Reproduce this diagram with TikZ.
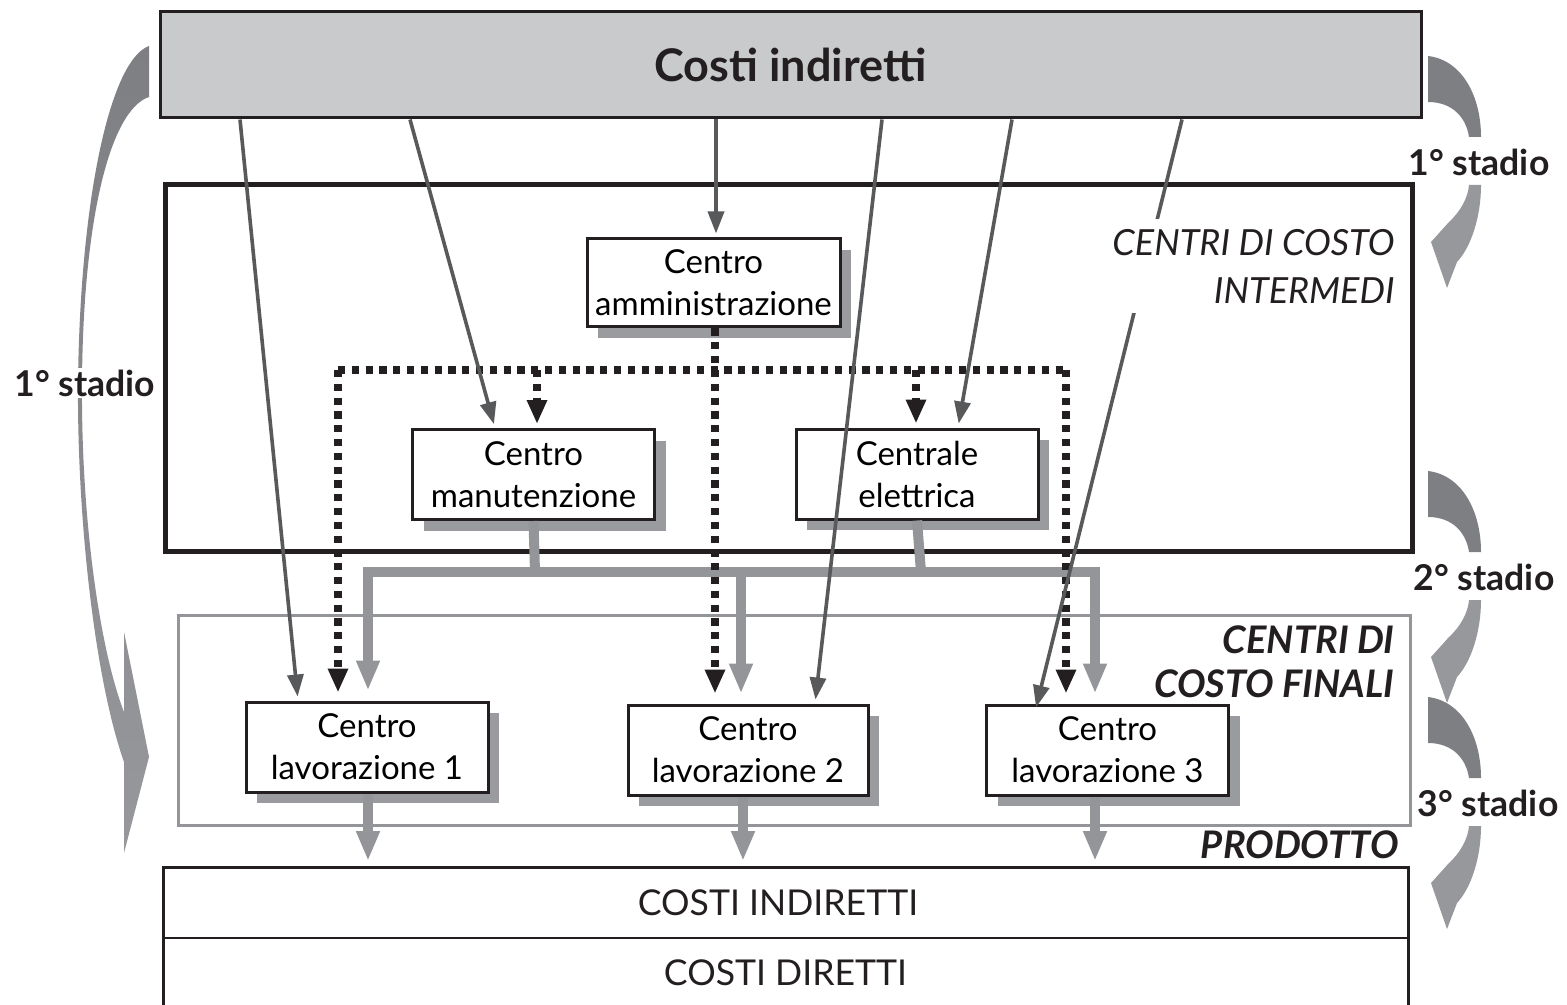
\documentclass[tikz,border=0pt]{standalone}
\usepackage{fontspec}
\setmainfont{Lato}
\usetikzlibrary{arrows.meta,shadows}
\definecolor{ink}{HTML}{231F20}
\definecolor{topfill}{HTML}{C9CACC}
\definecolor{shade}{HTML}{9A9B9E}
\definecolor{conn}{HTML}{939598}
\definecolor{thinline}{HTML}{58595B}
\definecolor{curvetop}{HTML}{7E7F82}
\definecolor{curvebot}{HTML}{97989B}
\begin{document}
\begin{tikzpicture}[x=0.5pt,y=-0.5pt,
  cbox/.style={draw=ink, line width=1.5pt, fill=white, minimum width=121pt,
    minimum height=45pt, inner sep=0pt, align=center,
    font=\fontsize{16.5}{21}\selectfont,
    drop shadow={shadow xshift=5.5pt, shadow yshift=-5.5pt, fill=shade, opacity=1}},
  thinarrow/.style={draw=thinline, line width=1.8pt, shorten >=2pt,
    -{Triangle[length=11pt,width=8pt]}},
  dotarrow/.style={draw=ink, line width=3.6pt, dash pattern=on 3.6pt off 3.3pt,
    -{Triangle[length=12pt,width=9.5pt]}},
  dotline/.style={draw=ink, line width=3.6pt, dash pattern=on 3.6pt off 3.3pt},
  gconn/.style={draw=conn, line width=5pt},
  gtip/.style={-{Triangle[length=15pt,width=11pt]}},
  stagelabel/.style={font=\bfseries\fontsize{17.8}{20}\selectfont, text=ink, inner sep=1pt},
  tag/.style={text=ink, align=right, inner sep=2pt},
  stadioarrow/.pic={
    \fill[curvetop] (1428,-106) .. controls (1462,-102) and (1481,-66) .. (1481,-25)
      -- (1469,-25) .. controls (1466,-45) and (1452,-60) .. (1428,-60) -- cycle;
    \fill[curvebot] (1481,23) .. controls (1481,55) and (1471,85) .. (1457,100)
      -- (1447,126) -- (1431,80) -- (1449,60)
      .. controls (1460,50) and (1468,36) .. (1469,23) -- cycle;
  }]
\useasboundingbox (0,0) rectangle (1567,1005);

% stage arrows on the right
\pic at (0,162) {stadioarrow};
\pic at (0,577) {stadioarrow};
\pic at (0,803) {stadioarrow};

% long stage arrow on the left
\shade[top color=curvetop, bottom color=curvebot]
  (149,46) .. controls (110,60) and (80,200) .. (78,383)
  .. controls (77,520) and (95,680) .. (124,762)
  -- (124,853) -- (149,757) -- (124,632) -- (124,712)
  .. controls (100,650) and (81,520) .. (82,383)
  .. controls (83,220) and (110,110) .. (149,97) -- cycle;

% frames
\node[draw=ink, line width=1.5pt, fill=topfill, minimum width=630.5pt, minimum height=53pt,
  font=\bfseries\fontsize{22.5}{26}\selectfont, text=ink] (ci) at (790.5,65) {Costi indiretti};
\node[draw=ink, line width=2.5pt, minimum width=623.5pt, minimum height=183pt] (inter) at (788.5,368) {};
\node[draw=conn, line width=1.5pt, minimum width=616pt, minimum height=105pt] (fin) at (794,720) {};

% product block
\node[minimum width=622.5pt, minimum height=35pt, inner sep=0pt,
  font=\fontsize{17.8}{20}\selectfont, text=ink] (cind) at (778,903) {COSTI INDIRETTI};
\node[minimum width=622.5pt, minimum height=34pt, inner sep=0pt,
  font=\fontsize{17.8}{20}\selectfont, text=ink] (cdir) at (785.5,973) {COSTI DIRETTI};
\draw[ink, line width=1.5pt] (163,0 |- cdir.south) -- (163,0 |- cind.north) -- (1408,0 |- cind.north) -- (1408,0 |- cdir.south);
\draw[ink, line width=1pt] (163,0 |- cind.south) -- (1408,0 |- cind.south);

% cost centres
\node[cbox, minimum width=126.5pt, minimum height=44pt] (admin) at (713.5,283) {Centro\\amministrazione};
\node[cbox] (manut) at (533.5,474.5) {Centro\\manutenzione};
\node[cbox] (elet) at (917,474) {Centrale\\elettrica};
\node[cbox] (lav1) at (367,747) {Centro\\lavorazione 1};
\node[cbox, minimum width=120pt] (lav2) at (748,750) {Centro\\lavorazione 2};
\node[cbox] (lav3) at (1107.5,750) {Centro\\lavorazione 3};

% second-stage transfers
\draw[gconn] (manut.south) -- (535,572);
\draw[gconn] (elet.south) -- (921,572);
\draw[gconn, {Triangle[length=15pt,width=11pt]}-{Triangle[length=15pt,width=11pt]}, shorten <=5pt, shorten >=5pt]
  (368,0 |- lav1.north) -- (368,572) -- (1095,572) -- (1095,0 |- lav3.north);
\draw[gconn, gtip, shorten >=5pt] (741,572) -- (741,0 |- lav2.north);

% third-stage transfers
\draw[gconn, gtip, shorten >=3pt] (368,0 |- lav1.south) -- (368,867);
\draw[gconn, gtip, shorten >=3pt] (743,0 |- lav2.south) -- (743,867);
\draw[gconn, gtip, shorten >=3pt] (1095,0 |- lav3.south) -- (1095,867);

% administration cost spread
\coordinate (dl) at (338,370);
\coordinate (dr) at (1066,370);
\draw[dotline] (dl) -- (dr);
\draw[dotarrow, shorten >=4pt] (dl) -- (338,0 |- lav1.north);
\draw[dotarrow, shorten >=5pt] (dr) -- (1066,0 |- lav3.north);
\draw[dotarrow, shorten >=5pt] (715,0 |- admin.south) -- (715,0 |- lav2.north);
\draw[dotarrow, shorten >=2pt] (537,370) -- (537,0 |- manut.north);
\draw[dotarrow, shorten >=2pt] (916,370) -- (916,0 |- elet.north);

% first-stage allocations
\draw[thinarrow] (240,0 |- ci.south) -- (298,0 |- lav1.north);
\draw[thinarrow] (410,0 |- ci.south) -- (495,0 |- manut.north);
\draw[thinarrow] (716,0 |- ci.south) -- (716,0 |- admin.north);
\draw[thinarrow] (882,0 |- ci.south) -- (815,0 |- lav2.north);
\draw[thinarrow] (1012,0 |- ci.south) -- (958,0 |- elet.north);
\draw[thinarrow, shorten >=-2pt] (1182,0 |- ci.south) -- (1037,0 |- lav3.north);

% labels
\node[tag, anchor=east, fill=white, inner sep=5pt,
  font=\itshape\fontsize{18}{24}\selectfont] (interlbl) at (1405,266) {CENTRI DI COSTO\\INTERMEDI};
\node[tag, anchor=east, font=\bfseries\itshape\fontsize{19}{22}\selectfont] (finlbl) at (1399,662) {CENTRI DI\\COSTO FINALI};
\node[tag, anchor=east, font=\bfseries\itshape\fontsize{19}{22}\selectfont] (prodlbl) at (1403,845) {PRODOTTO};

\node[stagelabel, fill=white] (s1l) at (85,383) {1° stadio};
\node[stagelabel] (s1r) at (1479,162) {1° stadio};
\node[stagelabel] (s2r) at (1484,577) {2° stadio};
\node[stagelabel] (s3r) at (1488,803) {3° stadio};
\end{tikzpicture}
\end{document}
